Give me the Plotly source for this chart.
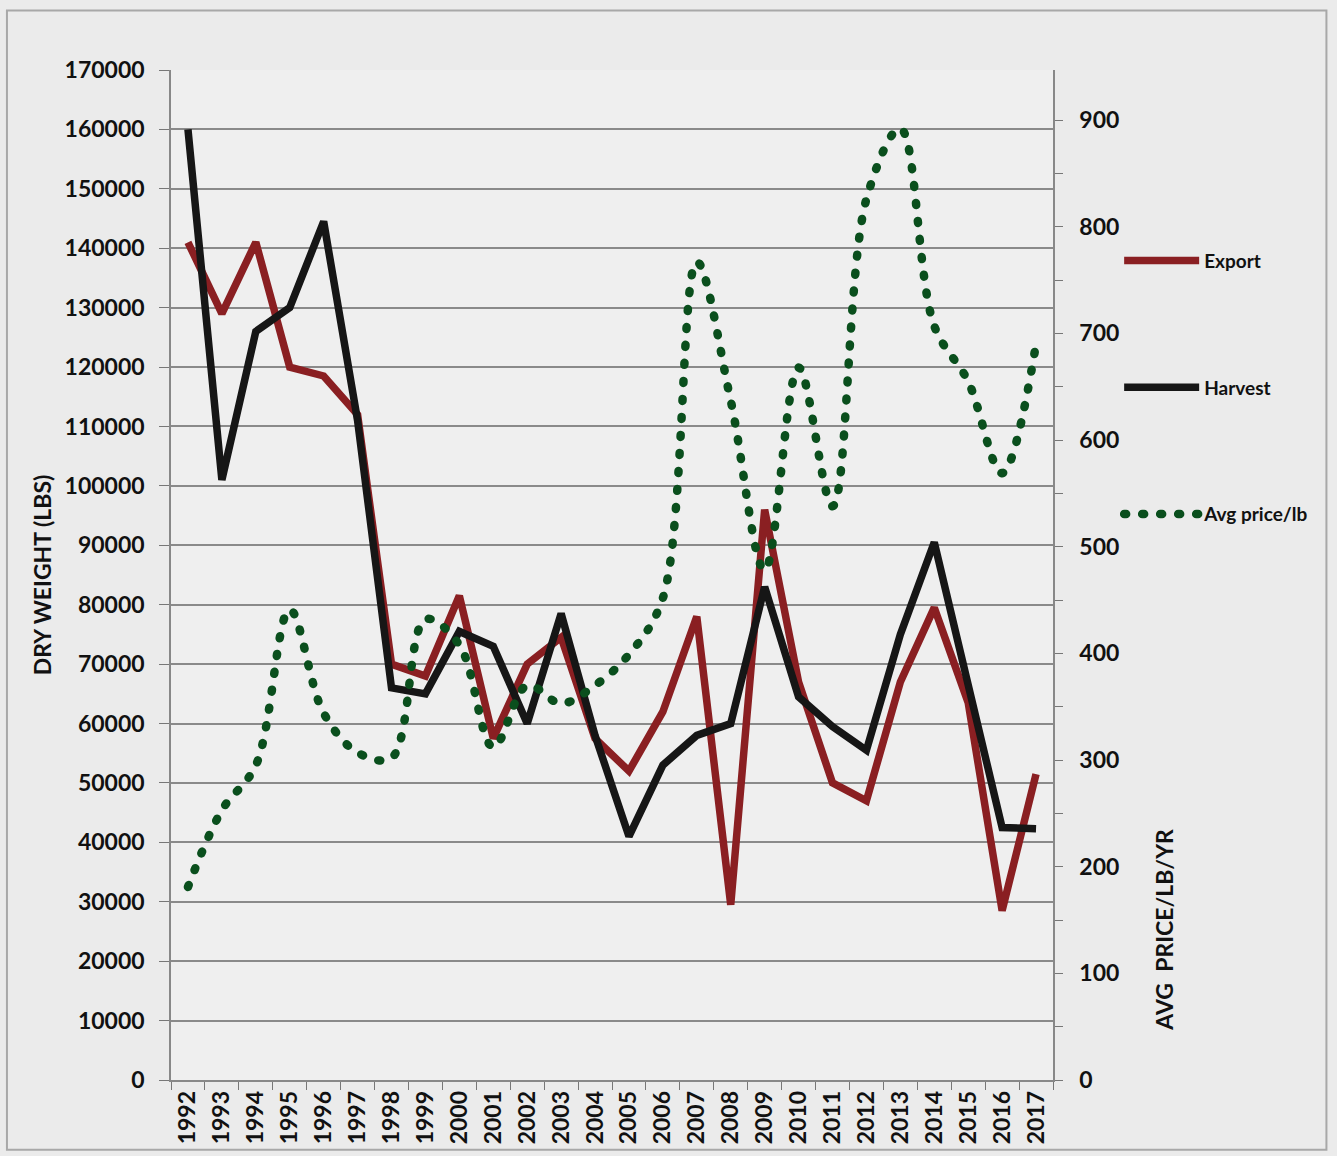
import plotly.graph_objects as go

years = ["1992", "1993", "1994", "1995", "1996", "1997", "1998", "1999", "2000",
         "2001", "2002", "2003", "2004", "2005", "2006", "2007", "2008", "2009",
         "2010", "2011", "2012", "2013", "2014", "2015", "2016", "2017"]

export = [141000, 129000, 141000, 120000, 118500, 112000, 70000, 68000, 81500,
          57500, 70000, 74500, 57500, 52000, 62000, 78000, 29500, 96000,
          67000, 50000, 47000, 67000, 79500, 63500, 28500, 51500]

harvest = [160000, 101000, 126000, 130000, 144500, 111000, 66000, 65000, 75500,
           73000, 60000, 78500, 58000, 41000, 53000, 58000, 60000, 83000,
           64500, 59500, 55500, 75000, 90500, 67000, 42500, 42300]

avg_price = [181, 253, 295, 441, 344, 307, 302, 432, 408, 312, 370, 353, 370,
             399, 452, 767, 637, 478, 668, 538, 826, 892, 707, 655, 569, 690]

left_ticks = list(range(0, 170001, 10000))
right_ticks = list(range(0, 901, 100))

FONT = "Lato, 'Open Sans', sans-serif"
RED = "#8a1f22"
BLACK = "#161616"
GREEN = "#0a4f1d"
GRID = "#8a8a8a"

fig = go.Figure()
fig.add_trace(go.Scatter(x=years, y=export, name="Export", mode="lines",
                         line=dict(color=RED, width=7.5), legendgroup="a"))
fig.add_trace(go.Scatter(x=years, y=harvest, name="Harvest", mode="lines",
                         line=dict(color=BLACK, width=7.5), legendgroup="b"))
fig.add_trace(go.Scatter(x=years, y=avg_price, name="Avg price/lb", mode="lines",
                         line=dict(color=GREEN, width=8.5, dash="2px,16px", shape="spline"),
                         yaxis="y2", legendgroup="c"))

fig.update_layout(
    width=1337, height=1156,
    margin=dict(l=171, r=284, t=70, b=76),
    paper_bgcolor="#ebebeb",
    plot_bgcolor="#efefef",
    font=dict(family=FONT, size=22, color="#111111", weight="bold"),
    xaxis=dict(
        type="category", range=[-0.5, 25.5], tickangle=-90,
        tickson="boundaries", ticks="outside", ticklen=8, tickcolor="#777777",
        showline=True, linecolor="#888888", linewidth=1.5, showgrid=False,
        tickfont=dict(family=FONT, size=23, weight="bold"),
    ),
    yaxis=dict(
        range=[0, 170000], tickvals=left_ticks, tickformat="d", ticks="outside",
        ticklen=10, tickcolor="#777777", showline=True, linecolor="#888888",
        linewidth=1.5, showgrid=True, gridcolor=GRID, gridwidth=1.5,
        zeroline=False, tickfont=dict(family=FONT, size=23, weight="bold"),
        ticklabelstandoff=10,
    ),
    yaxis2=dict(
        overlaying="y", side="right", range=[0, 947], tickvals=right_ticks,
        ticks="outside", ticklen=8, tickcolor="#777777",
        minor=dict(dtick=50, ticks="outside", ticklen=8, tickcolor="#777777"),
        showline=True, linecolor="#888888", linewidth=1.5, showgrid=False,
        zeroline=False, tickfont=dict(family=FONT, size=23, weight="bold"),
        ticklabelstandoff=12,
    ),
    legend=dict(
        x=1.075, y=0.83, xanchor="left", yanchor="top",
        bgcolor="rgba(0,0,0,0)", tracegroupgap=99, itemwidth=75,
        font=dict(family=FONT, size=19, weight="bold"),
    ),
    showlegend=True,
    annotations=[
        dict(text="DRY WEIGHT (LBS)", xref="paper", yref="paper",
             x=-0.146, y=0.5, xanchor="center", yanchor="middle",
             textangle=-90, showarrow=False,
             font=dict(family=FONT, size=23, weight="bold")),
        dict(text="AVG  PRICE/LB/YR", xref="paper", yref="paper",
             x=1.125, y=0.149, xanchor="center", yanchor="middle",
             textangle=-90, showarrow=False,
             font=dict(family=FONT, size=23, weight="bold")),
    ],
    shapes=[
        dict(type="rect", xref="paper", yref="paper",
             x0=-0.186, x1=1.31, y0=-0.069, y1=1.059,
             line=dict(color="#a8a8a8", width=2), fillcolor="rgba(0,0,0,0)",
             layer="below"),
    ],
)

post = """
document.body.style.margin = '0';
var gd = document.getElementById('{plot_id}');
function roundCaps(){
  gd.querySelectorAll('path').forEach(function(p){
    var d = p.style.strokeDasharray || '';
    if (d.indexOf('16') >= 0) { p.style.strokeLinecap = 'round'; }
  });
}
roundCaps();
gd.on && gd.on('plotly_afterplot', roundCaps);
"""

fig.write_html("out.html", post_script=post, config={"displayModeBar": False})
